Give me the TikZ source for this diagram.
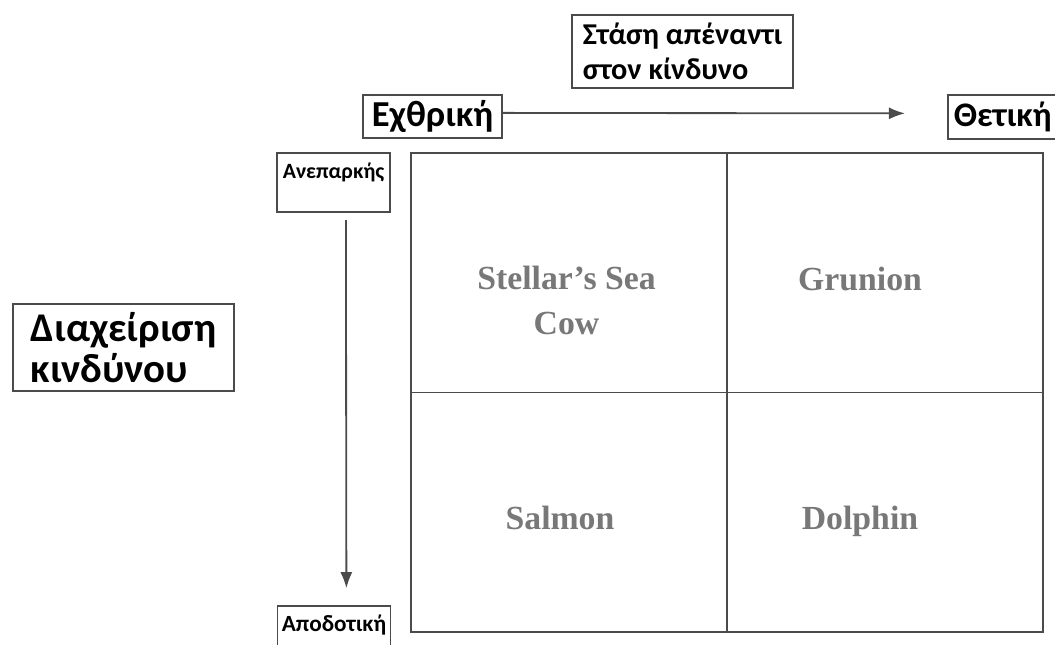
\documentclass[tikz,border=0pt]{standalone}
\usepackage{fontspec}
\setmainfont{Liberation Serif}
\newfontfamily\grfont{Carlito}
\usepackage{tikz}
\usetikzlibrary{positioning,arrows.meta}

\definecolor{linegray}{RGB}{75,75,75}
\definecolor{cellgray}{RGB}{120,120,120}

\begin{document}
\begin{tikzpicture}[x=0.025cm,y=-0.025cm,
  box/.style={draw=linegray,line width=1.3pt,inner sep=0pt,font=\grfont\bfseries},
  smallbox/.style={box,minimum width=2.825cm,text height=0.65cm,text depth=0.825cm,font=\grfont\bfseries\fontsize{15.5}{18}\selectfont},
  celltext/.style={font=\bfseries\fontsize{24}{32}\selectfont,text=cellgray,align=center,anchor=base},
  arr/.style={draw=linegray,line width=1.3pt,-{Latex[length=4mm,width=3mm]}}]

\useasboundingbox (0,0) rectangle (1055,645);

% axis labels
\node[box,minimum width=5.525cm,minimum height=1.825cm,align=left,font=\grfont\bfseries\fontsize{21.5}{25}\selectfont] (attitude) at (682.5,51.5) {Στάση απέναντι\\στον κίνδυνο};
\node[box,minimum width=3.475cm,minimum height=1.075cm,font=\grfont\bfseries\fontsize{26}{30}\selectfont] (hostile) at (432.5,116.5) {Εχθρική};
\node[box,anchor=west,minimum width=3.3cm,minimum height=1.1cm,inner xsep=0.12cm,text width=3cm,font=\grfont\bfseries\fontsize{24.5}{30}\selectfont] (positive) at (947,117) {Θετική};
\node[box,minimum width=5.525cm,minimum height=2.175cm,align=left,font=\grfont\bfseries\fontsize{29}{29}\selectfont] (manage) at (123.5,347.5) {Διαχείριση\\κινδύνου};
\node[smallbox,anchor=north] (inadequate) at (333.5,152) {Ανεπαρκής};
\node[smallbox,anchor=north,font=\grfont\bfseries\fontsize{16.5}{18}\selectfont] (efficient) at (334,605) {Αποδοτική};

% grid
\node[draw=linegray,line width=1.3pt,minimum width=15.8cm,minimum height=11.975cm] (grid) at (727,392.5) {};
\draw[linegray,line width=1.3pt] (grid.north) -- (grid.south);
\draw[linegray,line width=1.3pt] (grid.west) -- (grid.east);

\node[celltext] (seacow) at (566.5,334) {Stellar’s Sea\\Cow};
\node[celltext] (grunion) at (860,290) {Grunion};
\node[celltext] (salmon) at (560,529) {Salmon};
\node[celltext] (dolphin) at (860,529) {Dolphin};

% arrows
\draw[arr,shorten >=1.05cm] ([yshift=0.09cm]hostile.east) -- ([yshift=0.09cm]positive.west);
\draw[arr,shorten <=0.18cm,shorten >=0.42cm] ([xshift=0.31cm]inadequate.south) -- ([xshift=0.31cm]efficient.north);

\end{tikzpicture}
\end{document}
